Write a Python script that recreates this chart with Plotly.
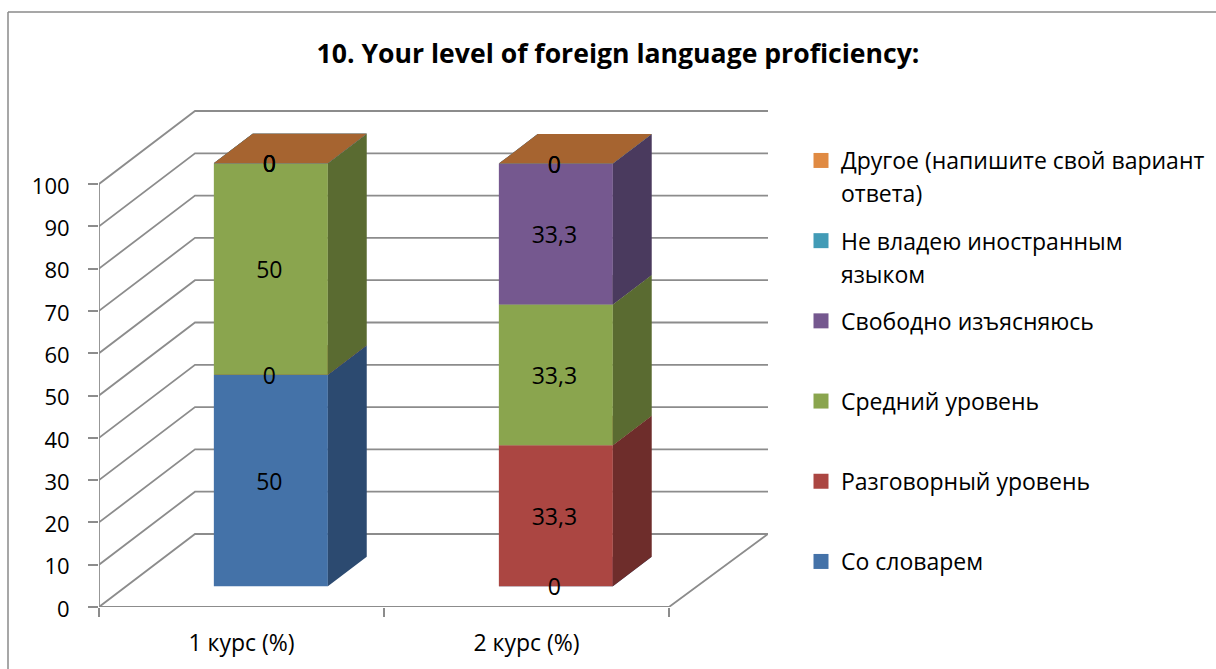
import plotly.graph_objects as go

title = "10. Your level of foreign language proficiency:"
categories = ["1 курс (%)", "2 курс (%)"]
series_names = [
    "Со словарем",
    "Разговорный уровень",
    "Средний уровень",
    "Свободно изъясняюсь",
    "Не владею иностранным<br>языком",
    "Другое (напишите свой вариант<br>ответа)",
]
values_course1 = [50, 0, 50, 0, 0, 0]
values_course2 = [0, 33.3, 33.3, 33.3, 0, 0]
y_ticks = [0, 10, 20, 30, 40, 50, 60, 70, 80, 90, 100]

front_colors = ["#4472A8", "#AB4642", "#8AA54E", "#75588F", "#429BB6", "#E08A42"]
side_colors = ["#2C4A70", "#6E2D2B", "#5A6B31", "#4A3A5E", "#2C6A7E", "#A66430"]
top_colors = ["#3A6391", "#8F3B38", "#748C42", "#624A78", "#38839A", "#A66430"]

# Oblique projection settings
PX_X, PX_Y = 285.0, 4.23
DX, DY = 96 / PX_X, 73 / PX_Y          # full depth of the box in axis units
BACK_STRETCH = 3 / PX_X                # back wall is slightly wider than the front edge
D_FRONT, D_BACK = 0.285, 0.69          # bar depth span
BAR_L, BAR_W = 0.307, 0.40
GRID = "#8C8C8C"
FONT = "Open Sans, Noto Sans, sans-serif"
TXT = "#000000"


def proj(x, y, d):
    return x + d * DX, y + d * DY


fig = go.Figure()

# walls and floor
gx, gy = [], []
back_right = proj(len(categories) + BACK_STRETCH, 0, 1)[0]
for v in y_ticks:
    pts = [proj(0, v, 0), proj(0, v, 1), (back_right, proj(0, v, 1)[1])]
    gx += [p[0] for p in pts] + [None]
    gy += [p[1] for p in pts] + [None]
for p in [(back_right, proj(0, 0, 1)[1]), proj(len(categories), 0, 0), proj(0, 0, 0), proj(0, y_ticks[-1], 0)]:
    gx.append(p[0])
    gy.append(p[1])
fig.add_trace(go.Scatter(x=gx, y=gy, mode="lines", line=dict(color=GRID, width=1.8),
                         showlegend=False, hoverinfo="skip"))

# stacked columns
label_x, label_y, label_t = [], [], []
all_values = [values_course1, values_course2]
bottoms = [0.0 for _ in categories]
for s, name in enumerate(series_names):
    fx, fy, sx, sy, tx, ty = [], [], [], [], [], []
    for c in range(len(categories)):
        v = all_values[c][s]
        b = bottoms[c]
        t = b + v
        l = c + BAR_L
        r = l + BAR_W
        for (xs, ys, poly) in [
            (fx, fy, [proj(l, b, D_FRONT), proj(r, b, D_FRONT), proj(r, t, D_FRONT), proj(l, t, D_FRONT)]),
            (sx, sy, [proj(r, b, D_FRONT), proj(r, b, D_BACK), proj(r, t, D_BACK), proj(r, t, D_FRONT)]),
            (tx, ty, [proj(l, t, D_FRONT), proj(r, t, D_FRONT), proj(r, t, D_BACK), proj(l, t, D_BACK)]),
        ]:
            xs += [p[0] for p in poly] + [poly[0][0], None]
            ys += [p[1] for p in poly] + [poly[0][1], None]
        p = proj(c + BAR_L + BAR_W / 2, b + v / 2, D_FRONT)
        label_x.append(p[0] - 1.5 / PX_X)
        label_y.append(p[1] - 3.5 / PX_Y)
        label_t.append(str(v).replace(".", ","))
        bottoms[c] = t
    for xs, ys, col in [(fx, fy, front_colors[s]), (sx, sy, side_colors[s]), (tx, ty, top_colors[s])]:
        fig.add_trace(go.Scatter(x=xs, y=ys, mode="lines", fill="toself", fillcolor=col,
                                 line=dict(width=0, color=col), showlegend=False, hoverinfo="skip"))

# data labels
fig.add_trace(go.Scatter(x=label_x, y=label_y, text=label_t, mode="text",
                         textposition="middle center", cliponaxis=False,
                         textfont=dict(family=FONT, size=23, color=TXT),
                         showlegend=False, hoverinfo="skip"))

# legend, top to bottom: each entry takes two rows; the swatch sits on the first row only
for s in reversed(range(len(series_names))):
    rows = series_names[s].split("<br>")
    first = rows[0]
    second = rows[1] if len(rows) > 1 else "&nbsp;"
    fig.add_trace(go.Scatter(x=[None], y=[None], mode="markers", name=first, legendgroup=str(s),
                             marker=dict(symbol="square", size=15, color=front_colors[s])))
    fig.add_trace(go.Scatter(x=[None], y=[None], mode="markers", name=second, legendgroup=str(s),
                             marker=dict(symbol="square", size=15, color="rgba(0,0,0,0)")))

plot_w, plot_h = 669.0, 497.0
fig.update_layout(
    width=1216, height=669,
    autosize=False,
    margin=dict(l=99, r=448, t=110, b=62, autoexpand=False),
    paper_bgcolor="#FFFFFF", plot_bgcolor="#FFFFFF",
    font=dict(family=FONT, color=TXT),
    title=dict(text=title, x=618 / 1216, xanchor="center", y=1 - 54 / 669, yanchor="middle",
               font=dict(family=FONT, size=26.6, color=TXT, weight="bold")),
    xaxis=dict(range=[0, plot_w / PX_X], tickmode="array",
               tickvals=[i + 0.5 for i in range(len(categories))], ticktext=categories,
               ticks="", showgrid=False, zeroline=False, showline=False, ticklabelstandoff=20,
               tickfont=dict(family=FONT, size=23, color=TXT),
               minor=dict(tickmode="array", tickvals=list(range(len(categories) + 1)), ticks="outside",
                          ticklen=9, tickwidth=1.8, tickcolor=GRID, showgrid=False)),
    yaxis=dict(range=[0, plot_h / PX_Y], tickmode="array", tickvals=y_ticks,
               ticks="outside", ticklen=10, tickwidth=1.8, tickcolor=GRID, ticklabelstandoff=14,
               ticklabelshift=2,
               showgrid=False, zeroline=False, showline=False,
               tickfont=dict(family=FONT, size=22, color=TXT)),
    legend=dict(x=(801 - 99) / plot_w, xanchor="left", y=(497 + 110 - 139) / plot_h, yanchor="top",
                traceorder="grouped", tracegroupgap=14.4, itemclick=False, itemdoubleclick=False,
                bgcolor="rgba(0,0,0,0)", font=dict(family=FONT, size=23, color=TXT)),
    shapes=[
        dict(type="line", xref="paper", yref="paper",
             x0=(8 - 99) / plot_w, x1=(8 - 99) / plot_w, y0=-62 / plot_h, y1=(497 + 98) / plot_h,
             line=dict(color="#8A8A8A", width=1.5)),
        dict(type="line", xref="paper", yref="paper",
             x0=(8 - 99) / plot_w, x1=(1216 - 99) / plot_w, y0=(497 + 98) / plot_h, y1=(497 + 98) / plot_h,
             line=dict(color="#8A8A8A", width=1.5)),
    ],
)

fig.write_html("out.html", config=dict(displayModeBar=False),
               post_script="document.body.style.margin='0';")
